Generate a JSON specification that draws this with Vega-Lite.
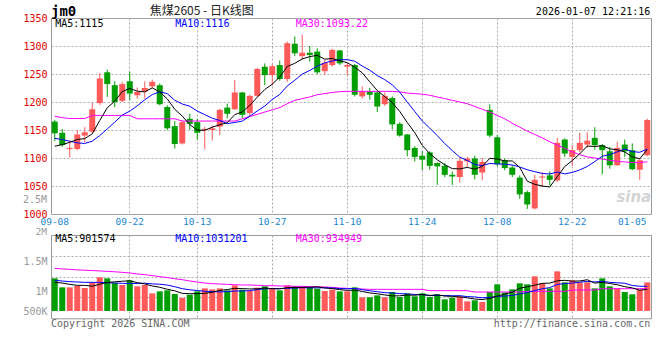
{
"$schema": "https://vega.github.io/schema/vega-lite/v6.json",
"background": "white",
"padding": {"left": 22, "top": 4, "right": 6, "bottom": 6},
"bounds": "flush",
"spacing": 21,
"config": {"view": {"stroke": "#999999", "strokeWidth": 1}, "axis": {"labelFont": "DejaVu Sans Mono", "labelFontSize": 10, "ticks": false, "domain": false, "gridColor": "#aaaaaa", "gridDash": [2, 2], "labelOverlap": false, "labelFlush": false, "title": null}},
"datasets": {"k": [
{"d":"2025-09-08","o":1165,"h":1168,"l":1130,"c":1144,"v":1365000,"a5":1121,"a10":1135,"a30":1174.5,"v5":1198000,"v10":1282000,"v30":1780000},
{"d":"2025-09-09","o":1145,"h":1152,"l":1120,"c":1123,"v":989000,"a5":1124,"a10":1133,"a30":1172,"v5":1170000,"v10":1254000,"v30":1760000},
{"d":"2025-09-10","o":1116,"h":1131,"l":1101,"c":1118,"v":989000,"a5":1128,"a10":1130,"a30":1170.5,"v5":1114000,"v10":1226000,"v30":1740000},
{"d":"2025-09-11","o":1116,"h":1150,"l":1114,"c":1142,"v":1045000,"a5":1133,"a10":1127,"a30":1170.5,"v5":1073000,"v10":1212000,"v30":1720000},
{"d":"2025-09-12","o":1140,"h":1155,"l":1128,"c":1146,"v":961000,"a5":1134.6,"a10":1126,"a30":1170.5,"v5":1070000,"v10":1198000,"v30":1705000},
{"d":"2025-09-15","o":1147,"h":1199,"l":1145,"c":1187,"v":1198000,"a5":1143.2,"a10":1130,"a30":1176,"v5":1036000,"v10":1198000,"v30":1690000},
{"d":"2025-09-16","o":1198,"h":1252,"l":1195,"c":1242,"v":1407000,"a5":1167,"a10":1140,"a30":1176,"v5":1120000,"v10":1198000,"v30":1675000},
{"d":"2025-09-17","o":1253,"h":1258,"l":1209,"c":1232,"v":1365000,"a5":1189.8,"a10":1152,"a30":1176,"v5":1195000,"v10":1184000,"v30":1655000},
{"d":"2025-09-18","o":1230,"h":1237,"l":1191,"c":1200,"v":1170000,"a5":1201.4,"a10":1164,"a30":1176,"v5":1220000,"v10":1170000,"v30":1640000},
{"d":"2025-09-19","o":1202,"h":1236,"l":1200,"c":1232,"v":1087000,"a5":1218.6,"a10":1176.6,"a30":1176,"v5":1245000,"v10":1158000,"v30":1615000},
{"d":"2025-09-22","o":1237,"h":1254,"l":1203,"c":1215,"v":1282000,"a5":1224.2,"a10":1183.7,"a30":1176,"v5":1262000,"v10":1149000,"v30":1590000},
{"d":"2025-09-23","o":1212,"h":1226,"l":1206,"c":1218,"v":1031000,"a5":1219.4,"a10":1193.2,"a30":1170,"v5":1187000,"v10":1153000,"v30":1550000},
{"d":"2025-09-24","o":1219,"h":1237,"l":1206,"c":1225,"v":1087000,"a5":1218,"a10":1203.9,"a30":1170,"v5":1131000,"v10":1163000,"v30":1520000},
{"d":"2025-09-25","o":1228,"h":1240,"l":1225,"c":1236,"v":738000,"a5":1225.2,"a10":1213.3,"a30":1170,"v5":1045000,"v10":1133000,"v30":1480000},
{"d":"2025-09-26","o":1230,"h":1233,"l":1194,"c":1196,"v":822000,"a5":1218,"a10":1218.3,"a30":1170,"v5":992000,"v10":1119000,"v30":1435000},
{"d":"2025-09-29","o":1191,"h":1194,"l":1150,"c":1153,"v":864000,"a5":1205.6,"a10":1214.9,"a30":1170,"v5":908000,"v10":1085000,"v30":1395000},
{"d":"2025-09-30","o":1157,"h":1166,"l":1117,"c":1125,"v":710000,"a5":1187,"a10":1203.2,"a30":1170,"v5":844000,"v10":1016000,"v30":1350000},
{"d":"2025-10-09","o":1126,"h":1167,"l":1124,"c":1164,"v":543000,"a5":1174.8,"a10":1196.4,"a30":1166,"v5":736000,"v10":933000,"v30":1310000},
{"d":"2025-10-10","o":1170,"h":1179,"l":1150,"c":1161,"v":683000,"a5":1159.8,"a10":1192.5,"a30":1166,"v5":724000,"v10":885000,"v30":1255000},
{"d":"2025-10-13","o":1164,"h":1170,"l":1133,"c":1145,"v":822000,"a5":1149.6,"a10":1183.8,"a30":1166,"v5":724000,"v10":858000,"v30":1210000},
{"d":"2025-10-14","o":1150,"h":1156,"l":1115,"c":1152,"v":947000,"a5":1149.4,"a10":1177.5,"a30":1166,"v5":741000,"v10":825000,"v30":1170000},
{"d":"2025-10-15","o":1150,"h":1158,"l":1131,"c":1153,"v":905000,"a5":1155,"a10":1171,"a30":1166,"v5":780000,"v10":812000,"v30":1142000},
{"d":"2025-10-16","o":1156,"h":1188,"l":1141,"c":1186,"v":947000,"a5":1159.4,"a10":1167.1,"a30":1166,"v5":861000,"v10":798000,"v30":1128000},
{"d":"2025-10-17","o":1190,"h":1197,"l":1171,"c":1179,"v":864000,"a5":1163,"a10":1161.4,"a30":1166,"v5":897000,"v10":811000,"v30":1114000},
{"d":"2025-10-20","o":1187,"h":1239,"l":1186,"c":1217,"v":1073000,"a5":1177.4,"a10":1163.5,"a30":1166,"v5":947000,"v10":836000,"v30":1100000},
{"d":"2025-10-21","o":1217,"h":1218,"l":1171,"c":1177,"v":892000,"a5":1182.4,"a10":1165.9,"a30":1170,"v5":936000,"v10":839000,"v30":1087000},
{"d":"2025-10-22","o":1180,"h":1213,"l":1173,"c":1211,"v":836000,"a5":1194,"a10":1174.5,"a30":1174,"v5":922000,"v10":851000,"v30":1087000},
{"d":"2025-10-23","o":1211,"h":1261,"l":1209,"c":1259,"v":975000,"a5":1208.6,"a10":1184,"a30":1178,"v5":928000,"v10":894000,"v30":1073000},
{"d":"2025-10-24","o":1263,"h":1269,"l":1230,"c":1248,"v":1031000,"a5":1222.4,"a10":1192.7,"a30":1182,"v5":961000,"v10":929000,"v30":1059000},
{"d":"2025-10-27","o":1248,"h":1268,"l":1229,"c":1264,"v":933000,"a5":1231.8,"a10":1204.6,"a30":1186,"v5":933000,"v10":940000,"v30":1059000},
{"d":"2025-10-28","o":1266,"h":1274,"l":1238,"c":1241,"v":864000,"a5":1244.6,"a10":1213.5,"a30":1190,"v5":928000,"v10":932000,"v30":1045000},
{"d":"2025-10-29","o":1241,"h":1308,"l":1236,"c":1305,"v":1073000,"a5":1263.4,"a10":1228.7,"a30":1197,"v5":975000,"v10":949000,"v30":1045000},
{"d":"2025-10-30","o":1304,"h":1317,"l":1282,"c":1287,"v":1031000,"a5":1269,"a10":1238.8,"a30":1203,"v5":986000,"v10":957000,"v30":1031000},
{"d":"2025-10-31","o":1282,"h":1320,"l":1276,"c":1288,"v":1031000,"a5":1277,"a10":1249.7,"a30":1206,"v5":986000,"v10":974000,"v30":1031000},
{"d":"2025-11-03","o":1288,"h":1300,"l":1272,"c":1284,"v":989000,"a5":1281,"a10":1256.4,"a30":1209,"v5":997000,"v10":965000,"v30":1017000},
{"d":"2025-11-04","o":1290,"h":1296,"l":1250,"c":1253,"v":933000,"a5":1283.4,"a10":1264,"a30":1213,"v5":1011000,"v10":970000,"v30":1017000},
{"d":"2025-11-05","o":1255,"h":1275,"l":1249,"c":1270,"v":836000,"a5":1276.4,"a10":1269.9,"a30":1215,"v5":964000,"v10":970000,"v30":1003000},
{"d":"2025-11-06","o":1266,"h":1295,"l":1263,"c":1293,"v":892000,"a5":1277.6,"a10":1273.3,"a30":1217,"v5":936000,"v10":961000,"v30":989000},
{"d":"2025-11-07","o":1292,"h":1293,"l":1266,"c":1269,"v":822000,"a5":1273.8,"a10":1275.4,"a30":1218.5,"v5":894000,"v10":940000,"v30":961000},
{"d":"2025-11-10","o":1263,"h":1269,"l":1248,"c":1266,"v":822000,"a5":1270.2,"a10":1275.6,"a30":1219,"v5":861000,"v10":929000,"v30":947000},
{"d":"2025-11-11","o":1266,"h":1268,"l":1210,"c":1213,"v":989000,"a5":1262.2,"a10":1272.8,"a30":1219,"v5":872000,"v10":942000,"v30":933000},
{"d":"2025-11-12","o":1210,"h":1228,"l":1206,"c":1219,"v":571000,"a5":1252,"a10":1264.2,"a30":1219,"v5":819000,"v10":892000,"v30":919000},
{"d":"2025-11-13","o":1219,"h":1225,"l":1204,"c":1213,"v":571000,"a5":1236,"a10":1256.8,"a30":1219,"v5":755000,"v10":846000,"v30":905000},
{"d":"2025-11-14","o":1217,"h":1219,"l":1182,"c":1192,"v":655000,"a5":1220.6,"a10":1247.2,"a30":1219,"v5":722000,"v10":808000,"v30":905000},
{"d":"2025-11-17","o":1196,"h":1217,"l":1193,"c":1211,"v":571000,"a5":1209.6,"a10":1239.9,"a30":1219,"v5":671000,"v10":766000,"v30":905000},
{"d":"2025-11-18","o":1207,"h":1210,"l":1151,"c":1160,"v":794000,"a5":1199,"a10":1230.6,"a30":1219,"v5":632000,"v10":752000,"v30":905000},
{"d":"2025-11-19","o":1161,"h":1164,"l":1138,"c":1140,"v":585000,"a5":1183.2,"a10":1217.6,"a30":1218,"v5":635000,"v10":727000,"v30":905000},
{"d":"2025-11-20","o":1142,"h":1143,"l":1103,"c":1114,"v":738000,"a5":1163.4,"a10":1199.7,"a30":1216,"v5":669000,"v10":712000,"v30":905000},
{"d":"2025-11-21","o":1118,"h":1121,"l":1094,"c":1102,"v":613000,"a5":1145.4,"a10":1183,"a30":1215,"v5":660000,"v10":691000,"v30":905000},
{"d":"2025-11-24","o":1104,"h":1112,"l":1078,"c":1097,"v":738000,"a5":1122.6,"a10":1166.1,"a30":1214,"v5":694000,"v10":683000,"v30":905000},
{"d":"2025-11-25","o":1110,"h":1112,"l":1079,"c":1086,"v":585000,"a5":1107.8,"a10":1153.4,"a30":1212,"v5":652000,"v10":642000,"v30":850000},
{"d":"2025-11-26","o":1091,"h":1092,"l":1052,"c":1085,"v":697000,"a5":1096.8,"a10":1140,"a30":1209,"v5":674000,"v10":655000,"v30":850000},
{"d":"2025-11-27","o":1086,"h":1091,"l":1066,"c":1070,"v":488000,"a5":1088,"a10":1125.7,"a30":1206,"v5":624000,"v10":646000,"v30":850000},
{"d":"2025-11-28","o":1070,"h":1076,"l":1052,"c":1067,"v":557000,"a5":1081,"a10":1113.2,"a30":1203,"v5":613000,"v10":637000,"v30":850000},
{"d":"2025-12-01","o":1066,"h":1101,"l":1056,"c":1095,"v":613000,"a5":1080.6,"a10":1101.6,"a30":1200,"v5":588000,"v10":641000,"v30":850000},
{"d":"2025-12-02","o":1094,"h":1102,"l":1084,"c":1099,"v":404000,"a5":1083.2,"a10":1095.5,"a30":1197,"v5":552000,"v10":602000,"v30":850000},
{"d":"2025-12-03","o":1099,"h":1104,"l":1062,"c":1070,"v":446000,"a5":1080.2,"a10":1088.5,"a30":1192,"v5":501000,"v10":588000,"v30":794000},
{"d":"2025-12-04","o":1074,"h":1100,"l":1060,"c":1093,"v":376000,"a5":1084.8,"a10":1086.4,"a30":1187,"v5":479000,"v10":552000,"v30":794000},
{"d":"2025-12-05","o":1186,"h":1196,"l":1137,"c":1140,"v":794000,"a5":1099.4,"a10":1090.2,"a30":1182,"v5":527000,"v10":570000,"v30":794000},
{"d":"2025-12-08","o":1137,"h":1141,"l":1085,"c":1089,"v":1114000,"a5":1098.2,"a10":1089.4,"a30":1176,"v5":627000,"v10":607000,"v30":794000},
{"d":"2025-12-09","o":1096,"h":1099,"l":1078,"c":1082,"v":780000,"a5":1094.8,"a10":1089,"a30":1170,"v5":702000,"v10":627000,"v30":794000},
{"d":"2025-12-10","o":1083,"h":1087,"l":1066,"c":1070,"v":905000,"a5":1094.8,"a10":1087.5,"a30":1162,"v5":794000,"v10":648000,"v30":794000},
{"d":"2025-12-11","o":1065,"h":1069,"l":1027,"c":1035,"v":1156000,"a5":1083.2,"a10":1084,"a30":1155,"v5":950000,"v10":715000,"v30":794000},
{"d":"2025-12-12","o":1039,"h":1042,"l":1009,"c":1017,"v":1114000,"a5":1058.6,"a10":1079,"a30":1148,"v5":1014000,"v10":770000,"v30":822000},
{"d":"2025-12-15","o":1010,"h":1070,"l":1008,"c":1061,"v":1449000,"a5":1053,"a10":1075.6,"a30":1142,"v5":1081000,"v10":854000,"v30":822000},
{"d":"2025-12-16","o":1065,"h":1075,"l":1048,"c":1067,"v":1156000,"a5":1050,"a10":1072.4,"a30":1136,"v5":1156000,"v10":929000,"v30":822000},
{"d":"2025-12-17","o":1069,"h":1076,"l":1051,"c":1061,"v":947000,"a5":1048.2,"a10":1071.5,"a30":1129,"v5":1165000,"v10":979000,"v30":822000},
{"d":"2025-12-18","o":1060,"h":1136,"l":1057,"c":1127,"v":1658000,"a5":1066.6,"a10":1074.9,"a30":1123,"v5":1265000,"v10":1107000,"v30":822000},
{"d":"2025-12-19","o":1133,"h":1135,"l":1102,"c":1108,"v":1198000,"a5":1084.8,"a10":1071.7,"a30":1117,"v5":1282000,"v10":1148000,"v30":822000},
{"d":"2025-12-22","o":1102,"h":1123,"l":1086,"c":1114,"v":1282000,"a5":1095.4,"a10":1074.2,"a30":1111,"v5":1248000,"v10":1165000,"v30":878000},
{"d":"2025-12-23","o":1114,"h":1145,"l":1110,"c":1127,"v":1198000,"a5":1107.4,"a10":1078.7,"a30":1106,"v5":1256000,"v10":1206000,"v30":878000},
{"d":"2025-12-24","o":1124,"h":1146,"l":1118,"c":1131,"v":1198000,"a5":1121.4,"a10":1084.8,"a30":1102,"v5":1307000,"v10":1236000,"v30":878000},
{"d":"2025-12-25","o":1136,"h":1155,"l":1115,"c":1123,"v":947000,"a5":1120.6,"a10":1093.6,"a30":1100,"v5":1165000,"v10":1215000,"v30":878000},
{"d":"2025-12-26","o":1123,"h":1125,"l":1071,"c":1114,"v":1365000,"a5":1121.8,"a10":1103.3,"a30":1098,"v5":1198000,"v10":1240000,"v30":933000},
{"d":"2025-12-29","o":1112,"h":1120,"l":1081,"c":1087,"v":1031000,"a5":1116.4,"a10":1105.9,"a30":1096,"v5":1148000,"v10":1198000,"v30":933000},
{"d":"2025-12-30","o":1087,"h":1129,"l":1086,"c":1118,"v":947000,"a5":1114.6,"a10":1111,"a30":1094,"v5":1098000,"v10":1177000,"v30":933000},
{"d":"2025-12-31","o":1124,"h":1133,"l":1102,"c":1112,"v":794000,"a5":1110.8,"a10":1116.1,"a30":1093,"v5":1017000,"v10":1162000,"v30":933000},
{"d":"2026-01-05","o":1114,"h":1126,"l":1078,"c":1080,"v":697000,"a5":1102.2,"a10":1111.4,"a30":1092,"v5":967000,"v10":1066000,"v30":933000},
{"d":"2026-01-06","o":1079,"h":1099,"l":1061,"c":1096,"v":892000,"a5":1098.6,"a10":1110.2,"a30":1092,"v5":872000,"v10":1035000,"v30":933000},
{"d":"2026-01-07","o":1105,"h":1170,"l":1103,"c":1168,"v":1198000,"a5":1115,"a10":1116,"a30":1093.22,"v5":901574,"v10":1031201,"v30":934949}
]},
"vconcat": [
{
"width": 600, "height": 196,
"data": {"name": "k"},
"encoding": {"x": {"field": "d", "type": "ordinal", "scale": {"paddingInner": 0.2, "paddingOuter": 0.1},
  "axis": {"values": ["2025-09-08","2025-09-22","2025-10-13","2025-10-27","2025-11-10","2025-11-24","2025-12-08","2025-12-22","2026-01-05"], "labelExpr": "substring(datum.value, 5)", "labelColor": "#1a86d0", "labelFontSize": 9.5, "labelPadding": 2, "labelAngle": 0, "labelOverlap": false, "grid": true, "gridOpacity": {"condition": {"test": "datum.value == '2025-09-08' || datum.value == '2026-01-05'", "value": 0}, "value": 1}, "title": null}}},
"layer": [
 {"mark": {"type": "rule", "strokeWidth": 1}, "encoding": {
   "y": {"field": "l", "type": "quantitative", "scale": {"domain": [1000, 1350], "nice": false, "zero": false}, "axis": {"values": [1000,1050,1100,1150,1200,1250,1300,1350], "tickCount": 50, "labelColor": "#e00000", "labelPadding": 4, "labelOverlap": false, "labelFlush": false, "grid": true, "title": null, "format": "d"}},
   "y2": {"field": "h"},
   "color": {"condition": {"test": "datum.c >= datum.o", "value": "#ff5a5a"}, "value": "#009e00"}}},
 {"mark": {"type": "bar"}, "encoding": {
   "y": {"field": "o", "type": "quantitative", "scale": {"domain": [1000, 1350], "nice": false, "zero": false}},
   "y2": {"field": "c"},
   "color": {"condition": {"test": "datum.c >= datum.o", "value": "#ff5a5a"}, "value": "#009e00"}}},
 {"mark": {"type": "line", "color": "#ff00ff", "strokeWidth": 1}, "encoding": {"y": {"field": "a30", "type": "quantitative", "scale": {"domain": [1000, 1350], "nice": false, "zero": false}}}},
 {"mark": {"type": "line", "color": "#0000ff", "strokeWidth": 1}, "encoding": {"y": {"field": "a10", "type": "quantitative", "scale": {"domain": [1000, 1350], "nice": false, "zero": false}}}},
 {"mark": {"type": "line", "color": "#000000", "strokeWidth": 1}, "encoding": {"y": {"field": "a5", "type": "quantitative", "scale": {"domain": [1000, 1350], "nice": false, "zero": false}}}},
 {"data": {"values": [{}]}, "mark": {"type": "text", "text": "MA5:1115", "align": "left", "baseline": "middle", "font": "DejaVu Sans Mono", "fontSize": 10, "color": "#000000", "dx": 0.5},
  "encoding": {"x": {"datum": "2025-09-08", "type": "ordinal"}, "y": {"datum": 1340, "type": "quantitative", "scale": {"domain": [1000, 1350], "nice": false, "zero": false}}}},
 {"data": {"values": [{}]}, "mark": {"type": "text", "text": "MA10:1116", "align": "left", "baseline": "middle", "font": "DejaVu Sans Mono", "fontSize": 10, "color": "#0000ff", "dx": 0.5},
  "encoding": {"x": {"datum": "2025-09-30", "type": "ordinal"}, "y": {"datum": 1340, "type": "quantitative", "scale": {"domain": [1000, 1350], "nice": false, "zero": false}}}},
 {"data": {"values": [{}]}, "mark": {"type": "text", "text": "MA30:1093.22", "align": "left", "baseline": "middle", "font": "DejaVu Sans Mono", "fontSize": 10, "color": "#ff00ff", "dx": 1},
  "encoding": {"x": {"datum": "2025-10-30", "type": "ordinal"}, "y": {"datum": 1340, "type": "quantitative", "scale": {"domain": [1000, 1350], "nice": false, "zero": false}}}},
 {"data": {"values": [{}]}, "mark": {"type": "text", "text": "jm0", "align": "left", "baseline": "middle", "font": "DejaVu Sans Mono", "fontSize": 14, "fontWeight": "bold", "color": "#000000", "dx": -3.75},
  "encoding": {"x": {"datum": "2025-09-08", "type": "ordinal"}, "y": {"datum": 1361.4, "type": "quantitative", "scale": {"domain": [1000, 1350], "nice": false, "zero": false}}}},
 {"data": {"values": [{}]}, "mark": {"type": "text", "text": "焦煤2605 - 日K线图", "align": "center", "baseline": "middle", "font": "Noto Sans CJK SC", "fontSize": 12, "color": "#222222", "dx": -3},
  "encoding": {"x": {"datum": "2025-10-14", "type": "ordinal"}, "y": {"datum": 1362.9, "type": "quantitative", "scale": {"domain": [1000, 1350], "nice": false, "zero": false}}}},
 {"data": {"values": [{}]}, "mark": {"type": "text", "text": "2026-01-07 12:21:16", "align": "right", "baseline": "middle", "font": "DejaVu Sans Mono", "fontSize": 10, "color": "#000000", "dx": 3},
  "encoding": {"x": {"datum": "2026-01-07", "type": "ordinal"}, "y": {"datum": 1360.2, "type": "quantitative", "scale": {"domain": [1000, 1350], "nice": false, "zero": false}}}},
 {"data": {"values": [{}]}, "mark": {"type": "text", "text": "sina", "align": "right", "baseline": "middle", "font": "DejaVu Sans", "fontSize": 15, "fontWeight": "bold", "fontStyle": "italic", "color": "#d4d4d4", "dx": 4},
  "encoding": {"x": {"datum": "2026-01-07", "type": "ordinal"}, "y": {"datum": 1030, "type": "quantitative", "scale": {"domain": [1000, 1350], "nice": false, "zero": false}}}}
]
},
{
"width": 600, "height": 83.3,
"data": {"name": "k"},
"encoding": {"x": {"field": "d", "type": "ordinal", "scale": {"paddingInner": 0.2, "paddingOuter": 0.1},
  "axis": {"values": ["2025-09-22","2025-10-13","2025-10-27","2025-11-10","2025-11-24","2025-12-08","2025-12-22"], "labels": false, "grid": true, "title": null}}},
"layer": [
 {"mark": {"type": "bar"}, "encoding": {
   "y": {"field": "v", "type": "quantitative", "scale": {"domain": [-305000, 3177000], "nice": false, "zero": false},
     "axis": {"values": [0, 573000, 836000, 1438000, 2090000, 2307000], "tickCount": 50, "labelExpr": "datum.value == 0 ? '500K' : datum.value == 836000 ? '1M' : datum.value == 2090000 ? '1.5M' : ''", "labelColor": "#999999", "labelPadding": 4, "labelOverlap": false, "labelFlush": false, "grid": true, "gridOpacity": {"condition": {"test": "datum.value == 573000 || datum.value == 1438000 || datum.value == 2307000", "value": 1}, "value": 0}, "title": null}},
   "y2": {"datum": 0},
   "color": {"condition": {"test": "datum.c >= datum.o", "value": "#ff5a5a"}, "value": "#009e00"}}},
 {"mark": {"type": "line", "color": "#ff00ff", "strokeWidth": 1}, "encoding": {"y": {"field": "v30", "type": "quantitative", "scale": {"domain": [-305000, 3177000], "nice": false, "zero": false}}}},
 {"mark": {"type": "line", "color": "#0000ff", "strokeWidth": 1}, "encoding": {"y": {"field": "v10", "type": "quantitative", "scale": {"domain": [-305000, 3177000], "nice": false, "zero": false}}}},
 {"mark": {"type": "line", "color": "#000000", "strokeWidth": 1}, "encoding": {"y": {"field": "v5", "type": "quantitative", "scale": {"domain": [-305000, 3177000], "nice": false, "zero": false}}}},
 {"data": {"values": [{}]}, "mark": {"type": "text", "text": "2M", "align": "right", "baseline": "middle", "font": "DejaVu Sans Mono", "fontSize": 9.5, "color": "#999999", "dx": -7.75},
  "encoding": {"x": {"datum": "2025-09-08", "type": "ordinal"}, "y": {"datum": 3290000, "type": "quantitative", "scale": {"domain": [-305000, 3177000], "nice": false, "zero": false}}}},
 {"data": {"values": [{}]}, "mark": {"type": "text", "text": "2.5M", "align": "right", "baseline": "middle", "font": "DejaVu Sans Mono", "fontSize": 10, "color": "#999999", "dx": -7.75},
  "encoding": {"x": {"datum": "2025-09-08", "type": "ordinal"}, "y": {"datum": 4627000, "type": "quantitative", "scale": {"domain": [-305000, 3177000], "nice": false, "zero": false}}}},
 {"data": {"values": [{}]}, "mark": {"type": "text", "text": "MA5:901574", "align": "left", "baseline": "middle", "font": "DejaVu Sans Mono", "fontSize": 10, "color": "#000000", "dx": 0.5},
  "encoding": {"x": {"datum": "2025-09-08", "type": "ordinal"}, "y": {"datum": 3026000, "type": "quantitative", "scale": {"domain": [-305000, 3177000], "nice": false, "zero": false}}}},
 {"data": {"values": [{}]}, "mark": {"type": "text", "text": "MA10:1031201", "align": "left", "baseline": "middle", "font": "DejaVu Sans Mono", "fontSize": 10, "color": "#0000ff", "dx": 0.5},
  "encoding": {"x": {"datum": "2025-09-30", "type": "ordinal"}, "y": {"datum": 3026000, "type": "quantitative", "scale": {"domain": [-305000, 3177000], "nice": false, "zero": false}}}},
 {"data": {"values": [{}]}, "mark": {"type": "text", "text": "MA30:934949", "align": "left", "baseline": "middle", "font": "DejaVu Sans Mono", "fontSize": 10, "color": "#ff00ff", "dx": 1},
  "encoding": {"x": {"datum": "2025-10-30", "type": "ordinal"}, "y": {"datum": 3026000, "type": "quantitative", "scale": {"domain": [-305000, 3177000], "nice": false, "zero": false}}}},
 {"data": {"values": [{}]}, "mark": {"type": "text", "text": "Copyright 2026 SINA.COM", "align": "left", "baseline": "middle", "font": "DejaVu Sans Mono", "fontSize": 10, "color": "#666666", "dx": -3.75},
  "encoding": {"x": {"datum": "2025-09-08", "type": "ordinal"}, "y": {"datum": -527000, "type": "quantitative", "scale": {"domain": [-305000, 3177000], "nice": false, "zero": false}}}},
 {"data": {"values": [{}]}, "mark": {"type": "text", "text": "http://finance.sina.com.cn", "align": "right", "baseline": "middle", "font": "DejaVu Sans Mono", "fontSize": 10, "color": "#666666", "dx": 3},
  "encoding": {"x": {"datum": "2026-01-07", "type": "ordinal"}, "y": {"datum": -556000, "type": "quantitative", "scale": {"domain": [-305000, 3177000], "nice": false, "zero": false}}}}
]
}
]
}
